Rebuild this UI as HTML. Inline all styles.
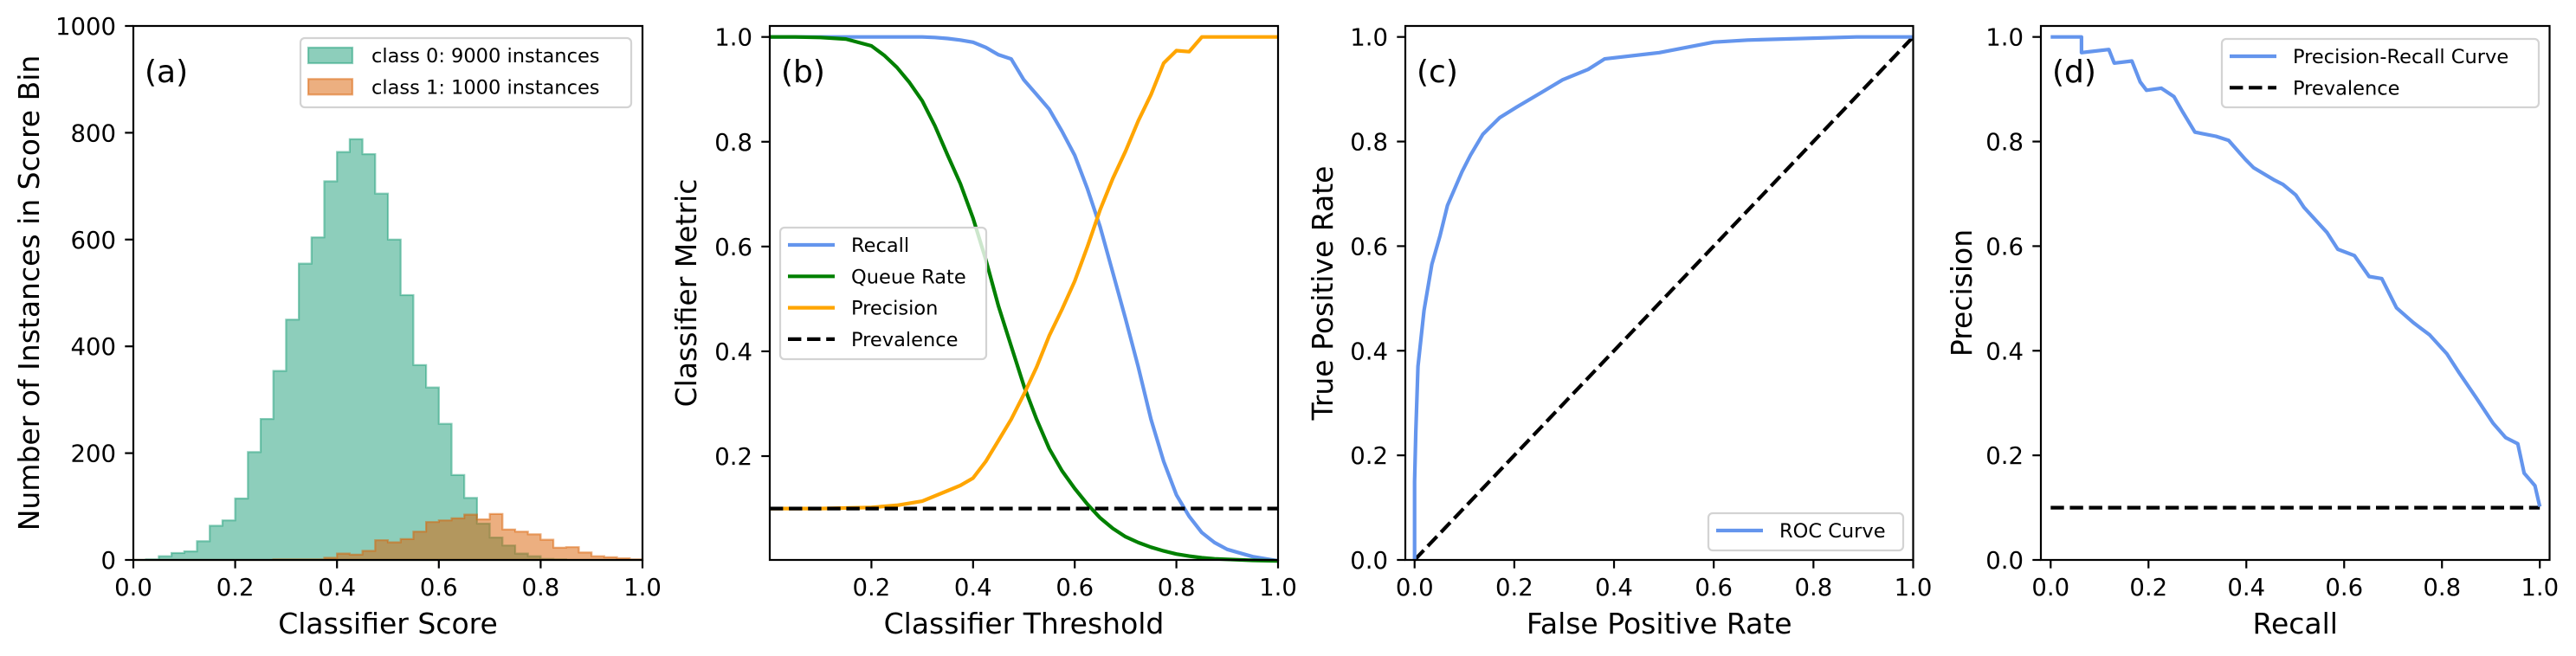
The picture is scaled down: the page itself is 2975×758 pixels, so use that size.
<!DOCTYPE html>
<html><head><meta charset="utf-8">
<style>
html,body{margin:0;padding:0;background:#fff;}
svg{display:block;font-family:"DejaVu Sans","Liberation Sans",sans-serif;}
</style></head>
<body>
<svg id="fig" xmlns="http://www.w3.org/2000/svg" width="2975" height="758" viewBox="0 0 2975 758"></svg>
<script>
// ---------- Data ----------
const histBinEdgesStart = 0;
const histBinWidth = 0.025;
const class0Counts = [0,1,7,13,16,35,64,74,115,202,264,354,450,555,604,709,764,788,760,686,600,496,365,323,255,159,116,68,42,27,12,7,2,1,0,0,0,0,0,0];
const class1Counts = [0,0,0,0,0,0,0,0,0,0,0,1,1,1,1,4,12,10,17,37,33,39,53,71,74,78,85,76,86,57,53,48,38,23,24,14,7,5,3,1];

const thresholds   = [0,0.05,0.1,0.15,0.2,0.225,0.25,0.275,0.3,0.325,0.35,0.375,0.4,0.425,0.45,0.475,0.5,0.525,0.55,0.575,0.6,0.625,0.65,0.675,0.7,0.725,0.75,0.775,0.8,0.825,0.85,0.875,0.9,0.95,1.0];
const recallVals   = [1,1,1,1,1,1,1,1,1,0.999,0.997,0.994,0.99,0.98,0.966,0.958,0.918,0.89,0.862,0.82,0.774,0.71,0.638,0.55,0.462,0.37,0.27,0.19,0.126,0.085,0.054,0.035,0.022,0.008,0];
const queueVals    = [1,1,0.999,0.996,0.983,0.965,0.942,0.913,0.878,0.83,0.774,0.72,0.654,0.575,0.486,0.41,0.334,0.27,0.214,0.172,0.138,0.108,0.082,0.062,0.046,0.035,0.026,0.019,0.013,0.009,0.006,0.004,0.003,0.001,0];
const precThr      = [0,0.1,0.2,0.25,0.3,0.35,0.375,0.4,0.425,0.45,0.475,0.5,0.525,0.55,0.575,0.6,0.625,0.65,0.675,0.7,0.725,0.75,0.775,0.8,0.825,0.85,0.9,1.0];
const precVals     = [0.1,0.1,0.102,0.106,0.114,0.134,0.144,0.158,0.19,0.23,0.27,0.318,0.37,0.43,0.48,0.534,0.6,0.67,0.73,0.782,0.84,0.89,0.95,0.974,0.972,1.0,1.0,1.0];
const prevalence   = 0.1;

const rocFpr = [0,0,0.0025,0.0067,0.019,0.0345,0.051,0.066,0.095,0.112,0.137,0.171,0.205,0.255,0.297,0.348,0.381,0.491,0.6,0.668,0.886,1];
const rocTpr = [0,0.15,0.245,0.37,0.477,0.565,0.62,0.678,0.742,0.774,0.814,0.846,0.866,0.894,0.918,0.938,0.958,0.97,0.99,0.994,1,1];

const prRecall = [0,0.063,0.063,0.119,0.13,0.166,0.183,0.196,0.226,0.252,0.269,0.295,0.338,0.364,0.398,0.415,0.458,0.475,0.501,0.518,0.565,0.587,0.621,0.651,0.677,0.707,0.741,0.775,0.81,0.835,0.87,0.904,0.93,0.955,0.968,0.99,1.0];
const prPrec   = [1,1,0.97,0.976,0.95,0.954,0.914,0.898,0.902,0.886,0.858,0.818,0.81,0.802,0.766,0.75,0.726,0.718,0.698,0.674,0.626,0.594,0.582,0.542,0.538,0.482,0.454,0.43,0.394,0.358,0.31,0.262,0.234,0.222,0.166,0.142,0.102];

const tickA_x = ["0.0","0.2","0.4","0.6","0.8","1.0"];
const tickA_y = ["0","200","400","600","800","1000"];
const tickB_x = ["0.2","0.4","0.6","0.8","1.0"];
const tickB_y = ["0.2","0.4","0.6","0.8","1.0"];
const tickC = ["0.0","0.2","0.4","0.6","0.8","1.0"];

// ---------- helpers ----------
const NS="http://www.w3.org/2000/svg";
const svg=document.getElementById('fig');
function mk(tag,attrs,parent){const e=document.createElementNS(NS,tag);for(const k in attrs)e.setAttribute(k,attrs[k]);(parent||svg).appendChild(e);return e;}
function panel(x0,x1,y0,y1,xl,yl){return {x0,x1,y0,y1,sx:v=>x0+(v-xl[0])/(xl[1]-xl[0])*(x1-x0),sy:v=>y1-(v-yl[0])/(yl[1]-yl[0])*(y1-y0)};}
function txt(s,x,y,size,anchor,parent,rot){const t=mk('text',{x:x,y:y,'font-size':size,'text-anchor':anchor||'start',fill:'#000'},parent);if(rot)t.setAttribute('transform','rotate(-90 '+x+' '+y+')');t.textContent=s;return t;}
function axes(P,name,xt,yt,xlab,ylab,ylabX,plabel){
  const g=mk('g',{});
  
  
  xt.forEach(s=>{const x=P.sx(parseFloat(s));
    const l=mk('line',{x1:x,x2:x,y1:P.y1,y2:P.y1+9.7,stroke:'#000','stroke-width':2.2},g);
    
    
    const t=txt(s,x,688,27.5,'middle',g);
    
    });
  yt.forEach(s=>{const y=P.sy(parseFloat(s));
    const l=mk('line',{x1:P.x0-9.7,x2:P.x0,y1:y,y2:y,stroke:'#000','stroke-width':2.2},g);
    
    
    const t=txt(s,P.x0-20,y+10,27.5,'end',g);
    
    });
  const xl=txt(xlab,(P.x0+P.x1)/2,732,33,'middle',g);
  
  
  const yl=txt(ylab,ylabX+11,(P.y0+P.y1)/2,33,'middle',g,true);
  
  
  const pl=txt(plabel,P.x0+13,95,36,'start',g);
  
  
  return g;}
function frame(P){const r=mk('rect',{x:P.x0,y:P.y0,width:P.x1-P.x0,height:P.y1-P.y0,fill:'none',stroke:'#000','stroke-width':2.2});
  
  }
function poly(P,xs,ys,color,name,dash){
  const pts=xs.map((x,i)=>P.sx(x).toFixed(1)+','+P.sy(ys[i]).toFixed(1)).join(' ');
  const p=mk('polyline',{points:pts,fill:'none',stroke:color,'stroke-width':4.2,'stroke-linejoin':'round'});
  if(dash)p.setAttribute('stroke-dasharray',dash);
  
  
  return p;}
function legend(x,y,w,h,items,name){
  const g=mk('g',{});
  
  
  mk('rect',{x:x,y:y,width:w,height:h,rx:5,fill:'rgba(255,255,255,0.8)',stroke:'#d3d3d3','stroke-width':2.2},g);
  items.forEach((it,i)=>{const cy=y+20+i*36.3;
    const e=mk('g',{},g);
    
    
    if(it.patch){mk('rect',{x:x+9,y:cy-9,width:51,height:18,fill:it.fill,stroke:it.stroke,'stroke-width':2.2},e);}
    else{const l=mk('line',{x1:x+9,x2:x+63,y1:cy,y2:cy,stroke:it.color,'stroke-width':4.2},e);if(it.dash)l.setAttribute('stroke-dasharray',it.dash);}
    txt(it.label,x+82,cy+8,22.5,'start',e);});}

// ---------- Panel A ----------
const PA=panel(154,742,30,647,[0,1],[0,1000]);
function histPath(counts){let d='M'+PA.sx(histBinEdgesStart)+','+PA.sy(0);
  counts.forEach((c,i)=>{const xa=PA.sx(histBinEdgesStart+i*histBinWidth),xb=PA.sx(histBinEdgesStart+(i+1)*histBinWidth);d+=' L'+xa.toFixed(1)+','+PA.sy(c).toFixed(1)+' L'+xb.toFixed(1)+','+PA.sy(c).toFixed(1);});
  d+=' L'+PA.sx(histBinEdgesStart+counts.length*histBinWidth)+','+PA.sy(0)+' Z';return d;}
const h0=mk('path',{d:histPath(class0Counts),fill:'rgba(27,158,119,0.5)',stroke:'rgba(27,158,119,0.5)','stroke-width':2.2});


const h1=mk('path',{d:histPath(class1Counts),fill:'rgba(217,95,2,0.5)',stroke:'rgba(217,95,2,0.5)','stroke-width':2.2});


frame(PA);
axes(PA,'panel-a',tickA_x,tickA_y,'Classifier Score','Number of Instances in Score Bin',34,'(a)');
legend(347,44,382,80,[{patch:1,fill:'rgba(27,158,119,0.5)',stroke:'rgba(27,158,119,0.5)',label:'class 0: 9000 instances'},{patch:1,fill:'rgba(217,95,2,0.5)',stroke:'rgba(217,95,2,0.5)',label:'class 1: 1000 instances'}],'legend-a');

// ---------- Panel B ----------
const PB=panel(889,1476,30,647,[0,1],[0.0018,1.021]);
poly(PB,thresholds,recallVals,'#6495ed','recall-line');
poly(PB,thresholds,queueVals,'#008000','queue-rate-line');
poly(PB,precThr,precVals,'#ffa500','precision-line');
poly(PB,[0,1],[prevalence,prevalence],'#000','prevalence-line','15.4,6.7');
frame(PB);
axes(PB,'panel-b',tickB_x,tickB_y,'Classifier Threshold','Classifier Metric',793,'(b)');
legend(901,263,238,152,[{color:'#6495ed',label:'Recall'},{color:'#008000',label:'Queue Rate'},{color:'#ffa500',label:'Precision'},{color:'#000',dash:'15.4,6.7',label:'Prevalence'}],'legend-b');

// ---------- Panel C ----------
const PC=panel(1623,2209.5,30,647,[-0.0186,1],[0,1.021]);
poly(PC,[0,1],[0,1],'#000','chance-diagonal','15.4,6.7');
poly(PC,rocFpr,rocTpr,'#6495ed','roc-curve');
frame(PC);
axes(PC,'panel-c',tickC,tickC,'False Positive Rate','True Positive Rate',1528,'(c)');
legend(1973,593,225,43,[{color:'#6495ed',label:'ROC Curve'}],'legend-c');

// ---------- Panel D ----------
const PD=panel(2357,2944.5,30,647,[-0.02,1.02],[0,1.021]);
poly(PD,[0,1],[prevalence,prevalence],'#000','prevalence-line-d','15.4,6.7');
poly(PD,prRecall,prPrec,'#6495ed','precision-recall-curve');
frame(PD);
axes(PD,'panel-d',tickC,tickC,'Recall','Precision',2266,'(d)');
legend(2566,45,366,79,[{color:'#6495ed',label:'Precision-Recall Curve'},{color:'#000',dash:'15.4,6.7',label:'Prevalence'}],'legend-d');
</script>
</body></html>
